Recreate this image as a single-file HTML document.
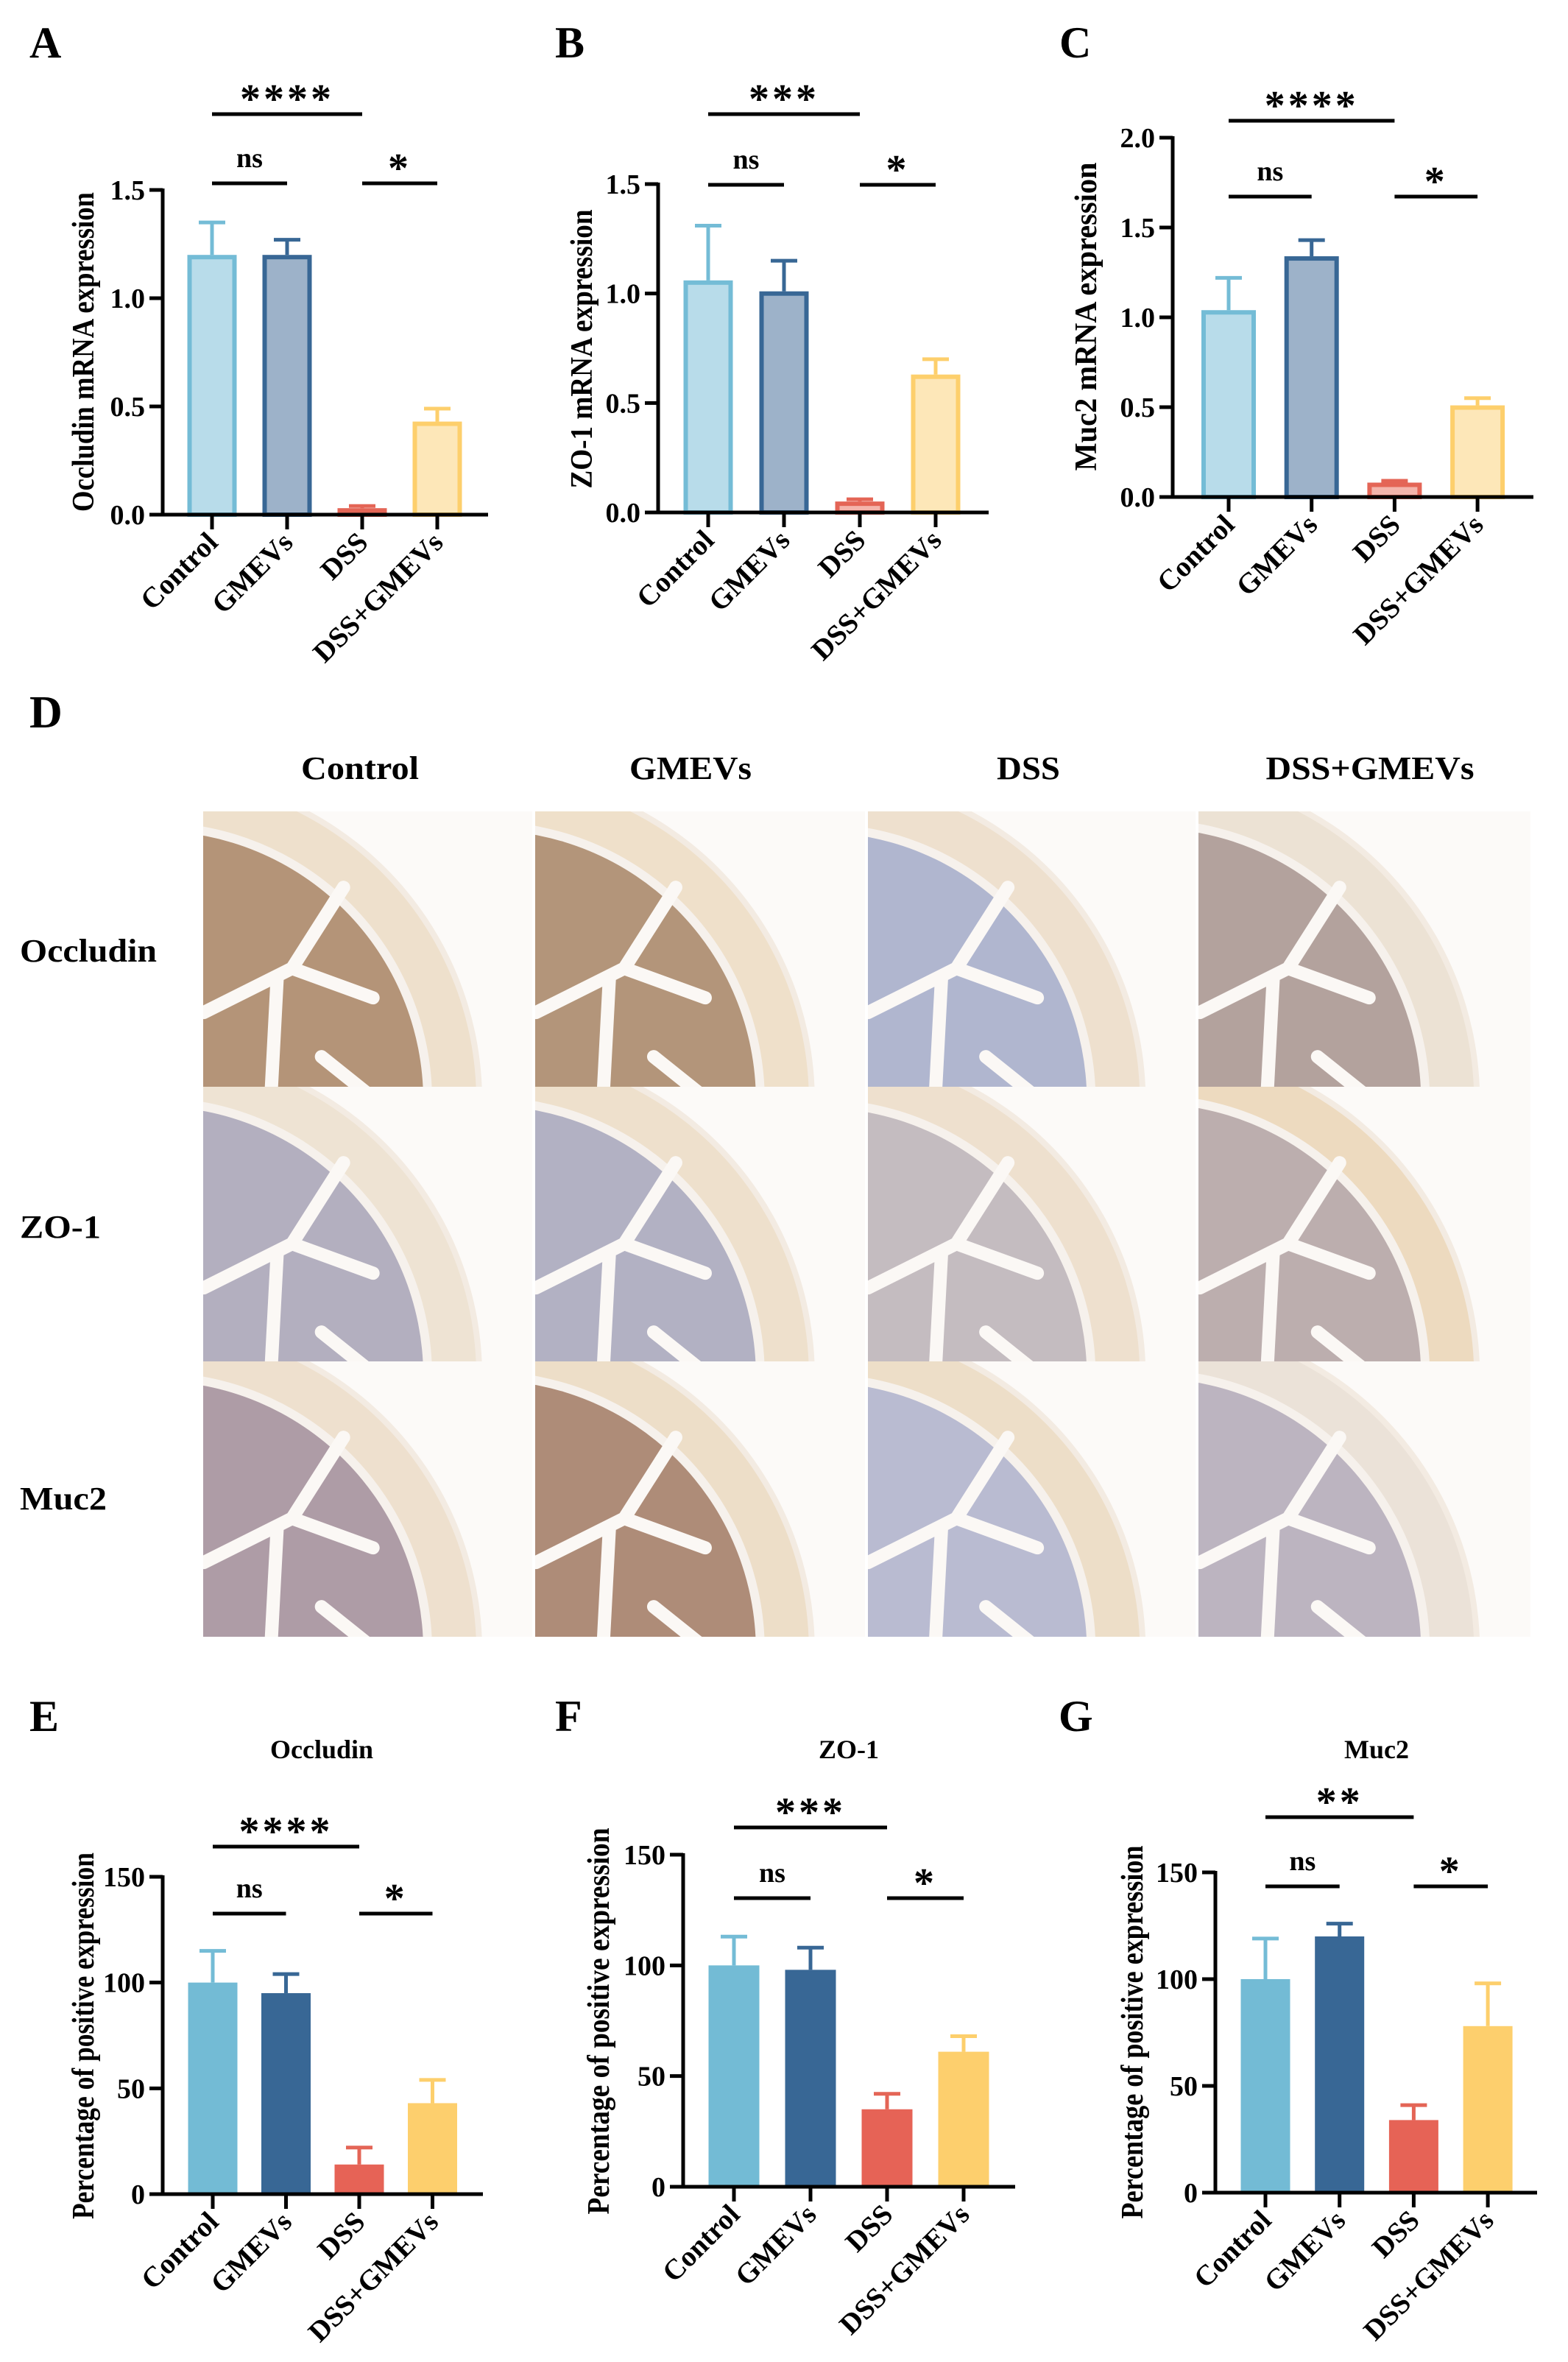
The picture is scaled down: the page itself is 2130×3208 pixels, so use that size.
<!DOCTYPE html>
<html><head><meta charset="utf-8">
<style>
html,body{margin:0;padding:0;background:#fff;}
#root{position:relative;width:2130px;height:3208px;overflow:hidden;background:#fff;}
svg text{font-family:"Liberation Serif",serif;font-weight:bold;fill:#000;}
</style></head>
<body>
<div id="root">
<svg id="fig" width="2130" height="3208" viewBox="0 0 2130 3208" xmlns="http://www.w3.org/2000/svg"></svg>
</div>
<script>
// ---- data ----
const categories = ["Control","GMEVs","DSS","DSS+GMEVs"];
const valuesA = [1.20, 1.20, 0.03, 0.43];
const errorsA = [1.35, 1.27, 0.04, 0.49];
const ticksA = [0, 0.5, 1.0, 1.5];
const tickLabelsA = ["0.0","0.5","1.0","1.5"];
const valuesB = [1.06, 1.01, 0.05, 0.63];
const errorsB = [1.31, 1.15, 0.06, 0.70];
const ticksB = [0, 0.5, 1.0, 1.5];
const tickLabelsB = ["0.0","0.5","1.0","1.5"];
const valuesC = [1.04, 1.34, 0.08, 0.51];
const errorsC = [1.22, 1.43, 0.09, 0.55];
const ticksC = [0, 0.5, 1.0, 1.5, 2.0];
const tickLabelsC = ["0.0","0.5","1.0","1.5","2.0"];
const valuesE = [100, 95, 14, 43];
const errorsE = [115, 104, 22, 54];
const valuesF = [100, 98, 35, 61];
const errorsF = [113, 108, 42, 68];
const valuesG = [100, 120, 34, 78];
const errorsG = [119, 126, 41, 98];
const ticksPct = [0, 50, 100, 150];
const tickLabelsPct = ["0","50","100","150"];
const sigA = ["****","ns","*"];
const sigB = ["***","ns","*"];
const sigC = ["****","ns","*"];
const sigE = ["****","ns","*"];
const sigF = ["***","ns","*"];
const sigG = ["**","ns","*"];

const NS = "http://www.w3.org/2000/svg";
const fig = document.getElementById("fig");
function mk(tag, attrs, parent){
  const e = document.createElementNS(NS, tag);
  for (const k in attrs) e.setAttribute(k, attrs[k]);
  (parent||fig).appendChild(e);
  return e;
}
const strokeCols = ["#74bcd6","#386795","#e46556","#fdcf6c"];
const lightFill = ["#b8dcea","#9db2c9","#f4b4ab","#fde7b8"];
const solidFill = ["#73bbd5","#386795","#e66356","#fdcf6d"];

function chart(L){
  const g = mk("g", {});
  
  
  const ys = v => L.y0 - (v - L.vmin)/(L.vmax - L.vmin)*(L.y0 - L.yTop);
  const xs = i => L.x0 + i*L.step;
  L.values.forEach((v,i)=>{
    const cx = xs(i), top = ys(v), h = L.y0 - top;
    const eb = mk("line",{x1:cx,x2:cx,y1:ys(L.errors[i]),y2:top,stroke:strokeCols[i],"stroke-width":5},g);
    
    
    const cap = mk("line",{x1:cx-L.cap,x2:cx+L.cap,y1:ys(L.errors[i]),y2:ys(L.errors[i]),stroke:strokeCols[i],"stroke-width":5},g);
    
    
    let r;
    if (L.outline){
      r = mk("rect",{x:cx-L.bw/2+3,y:top+3,width:L.bw-6,height:Math.max(h-3,1),fill:lightFill[i],stroke:strokeCols[i],"stroke-width":6},g);
    } else {
      r = mk("rect",{x:cx-L.bw/2,y:top,width:L.bw,height:h,fill:solidFill[i]},g);
    }
    
    
  });
  const ya = mk("line",{x1:L.ax,x2:L.ax,y1:ys(L.ticks[L.ticks.length-1])-2,y2:L.y0+2,stroke:"#000","stroke-width":5},g);
  
  
  const xa = mk("line",{x1:L.ax-2,x2:L.axEnd,y1:L.y0,y2:L.y0,stroke:"#000","stroke-width":5},g);
  
  
  L.ticks.forEach((t,i)=>{
    const y = ys(t);
    mk("line",{x1:L.ax-18,x2:L.ax,y1:y,y2:y,stroke:"#000","stroke-width":5},g);
    const tx = mk("text",{x:L.ax-24,y:y+13,"text-anchor":"end","font-size":38},g);
    tx.textContent = L.tickLabels[i];
    
    
  });
  categories.forEach((c,i)=>{
    const cx = xs(i);
    mk("line",{x1:cx,x2:cx,y1:L.y0,y2:L.y0+20,stroke:"#000","stroke-width":5},g);
    const ex = cx+10, ey = L.y0+40;
    const tx = mk("text",{x:ex,y:ey,"text-anchor":"end","font-size":39,transform:`rotate(-45 ${ex} ${ey})`},g);
    tx.textContent = c;
    
    
  });
  const yl = mk("text",{x:0,y:0,"text-anchor":"middle","font-size":42,textLength:L.ylLen,lengthAdjust:"spacingAndGlyphs",transform:`translate(${L.ylx+15} ${L.yly}) rotate(-90)`},g);
  yl.textContent = L.ylabel;
  
  
  const pairs = [[0,2,L.sigHi],[0,1,L.sigLo],[2,3,L.sigLo]];
  pairs.forEach((p,k)=>{
    const x1 = xs(p[0]), x2 = xs(p[1]);
    const ln = mk("line",{x1:x1,x2:x2,y1:p[2],y2:p[2],stroke:"#000","stroke-width":5},g);
    
    
    const lab = L.sig[k];
    const isStar = lab.indexOf("*")>=0;
    const t = mk("text",{x:(x1+x2)/2,y:isStar? p[2]-2 : p[2]-22,"text-anchor":"middle","font-size":isStar?56:38},g);
    if (isStar){ t.setAttribute("letter-spacing","4"); }
    t.textContent = lab;
    
    
  });
  if (L.title){
    const t = mk("text",{x:L.titleX,y:2388,"text-anchor":"middle","font-size":36},g);
    t.textContent = L.title;
    
    
  }
  const pl = mk("text",{x:L.letterX,y:L.letterY,"font-size":60},g);
  pl.textContent = L.letter;
  
  
}

chart({name:"chart-a",letter:"A",letterX:40,letterY:78,values:valuesA,errors:errorsA,ticks:ticksA,tickLabels:tickLabelsA,vmin:0,vmax:1.5,y0:699,yTop:258,ax:221,axEnd:663,x0:288,step:102,bw:67,cap:18,outline:true,ylabel:"Occludin mRNA expression",ylx:112,yly:478,ylLen:434,sig:sigA,sigHi:155,sigLo:249});
chart({name:"chart-b",letter:"B",letterX:754,letterY:78,values:valuesB,errors:errorsB,ticks:ticksB,tickLabels:tickLabelsB,vmin:0,vmax:1.5,y0:696,yTop:250,ax:894,axEnd:1343,x0:962,step:103,bw:67,cap:18,outline:true,ylabel:"ZO-1 mRNA expression",ylx:789,yly:474,ylLen:379,sig:sigB,sigHi:155,sigLo:251});
chart({name:"chart-c",letter:"C",letterX:1439,letterY:78,values:valuesC,errors:errorsC,ticks:ticksC,tickLabels:tickLabelsC,vmin:0,vmax:2,y0:675,yTop:187,ax:1593,axEnd:2083,x0:1669,step:112.7,bw:74,cap:18,outline:true,ylabel:"Muc2 mRNA expression",ylx:1474,yly:430,ylLen:419,sig:sigC,sigHi:164,sigLo:267});
chart({name:"chart-e",letter:"E",letterX:40,letterY:2351,values:valuesE,errors:errorsE,ticks:ticksPct,tickLabels:tickLabelsPct,vmin:0,vmax:150,y0:2980,yTop:2549,ax:221,axEnd:656,x0:289,step:99.5,bw:67,cap:18,outline:false,ylabel:"Percentage of positive expression",ylx:112,yly:2765,ylLen:498,sig:sigE,sigHi:2508,sigLo:2599,title:"Occludin",titleX:437});
chart({name:"chart-f",letter:"F",letterX:754,letterY:2351,values:valuesF,errors:errorsF,ticks:ticksPct,tickLabels:tickLabelsPct,vmin:0,vmax:150,y0:2970,yTop:2519,ax:928,axEnd:1379,x0:997,step:104,bw:69,cap:18,outline:false,ylabel:"Percentage of positive expression",ylx:812,yly:2745,ylLen:525,sig:sigF,sigHi:2482,sigLo:2578,title:"ZO-1",titleX:1153});
chart({name:"chart-g",letter:"G",letterX:1438,letterY:2351,values:valuesG,errors:errorsG,ticks:ticksPct,tickLabels:tickLabelsPct,vmin:0,vmax:150,y0:2978,yTop:2543,ax:1651,axEnd:2088,x0:1719,step:100.7,bw:67,cap:18,outline:false,ylabel:"Percentage of positive expression",ylx:1537,yly:2760,ylLen:507,sig:sigG,sigHi:2468,sigLo:2562,title:"Muc2",titleX:1870});

// ---- panel D micrographs ----
const dl = mk("text",{x:40,y:988,"font-size":62});
dl.textContent = "D";


const colX = [276, 727, 1179, 1628];
const colW = [447, 448, 445, 451];
const rowY = [1102, 1476, 1849];
const rowH = 374;
const colCenters = [489, 938, 1397, 1861];
const colLens = [160, 166, 86, 283];
categories.forEach((c,i)=>{
  const t = mk("text",{x:colCenters[i],y:1058,"text-anchor":"middle","font-size":44,textLength:colLens[i],lengthAdjust:"spacingAndGlyphs"});
  t.textContent = c;
  
  
});
const rowNames = ["Occludin","ZO-1","Muc2"];
const rowCY = [1291, 1666, 2035];
const rowLens = [186, 110, 118];
rowNames.forEach((r,i)=>{
  const t = mk("text",{x:27,y:rowCY[i]+15,"font-size":44,textLength:rowLens[i],lengthAdjust:"spacingAndGlyphs"});
  t.textContent = r;
  
  
});
const mucosa = [
  ["#b49478","#b3957a","#b0b6cf","#b3a29d"],
  ["#b3afbf","#b2b1c3","#c4bcc0","#bcaeae"],
  ["#ae9ca6","#ae8c78","#b9bbd1","#bcb4c0"]
];
const muscle = [
  ["#eee0cc","#efe0ca","#eee0ce","#ece2d4"],
  ["#eee3d3","#eee0cc","#eee0ce","#eddabf"],
  ["#eee0ce","#eddec8","#eddec8","#ebe2d8"]
];
let clipId = 0;
for (let r=0;r<3;r++){
  for (let c=0;c<4;c++){
    const x = colX[c], y = rowY[r], w = colW[c], h = rowH;
    const g = mk("g",{});
    
    
    const cp = mk("clipPath",{id:"cp"+clipId},g);
    mk("rect",{x:x,y:y,width:w,height:h},cp);
    const inner = mk("g",{"clip-path":"url(#cp"+clipId+")"},g);
    clipId++;
    mk("rect",{x:x,y:y,width:w,height:h,fill:"#fcfaf8"},inner);
    const cx = x - 0.15*w, cy = y + 1.05*h;
    const R = 0.98*w;
    mk("circle",{cx:cx,cy:cy,r:R+8,fill:"#f3ebe2"},inner);
    mk("circle",{cx:cx,cy:cy,r:R,fill:muscle[r][c]},inner);
    mk("circle",{cx:cx,cy:cy,r:R-60,fill:"#f6f1ec"},inner);
    mk("circle",{cx:cx,cy:cy,r:R-72,fill:mucosa[r][c]},inner);
    const lx = cx + 0.42*w, ly = cy - 0.48*h;
    mk("path",{d:`M${lx-120},${ly+60} L${lx},${ly} L${lx+70},${ly-110} M${lx},${ly} L${lx+110},${ly+40} M${lx-20},${ly+10} L${lx-30},${ly+200} M${lx+40},${ly+120} L${lx+140},${ly+200}`,stroke:"#fbf8f5","stroke-width":18,fill:"none","stroke-linecap":"round"},inner);
  }
}
</script>
</body></html>
